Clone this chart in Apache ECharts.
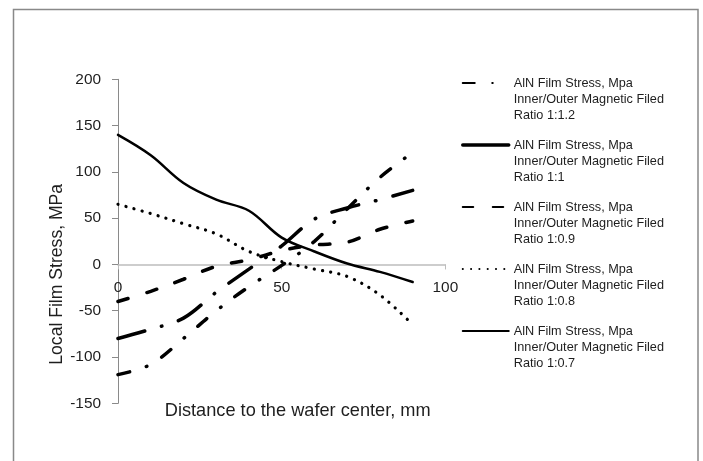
<!DOCTYPE html>
<html><head><meta charset="utf-8">
<script src="https://cdn.jsdelivr.net/npm/echarts@6/dist/echarts.min.js"></script>
<style>html,body{margin:0;padding:0;background:#fff}#c{width:703px;height:461px}</style>
</head><body><div id="c"></div>
<script>
// Distance to the wafer center, mm
const distance = [0, 10, 20, 30, 40, 50, 60, 70, 80, 90];
// Local film stress, MPa, per inner/outer magnetic field ratio
const ratio1_1_2 = [-119, -108, -80, -50, -24, -1, 25, 60, 94, 121];
const ratio1_1   = [-80, -70, -58, -30, -5, 20, 49, 61, 70, 80];
const ratio1_0_9 = [-40, -29, -16, -2, 5, 15, 21, 24, 38, 47];
const ratio1_0_8 = [65, 55, 44, 33, 14, 3, -5, -13, -33, -65];
const ratio1_0_7 = [140, 118, 88, 70, 58, 29, 14, 1, -8, -19];
const ratioLabels = ['1:1.2', '1:1', '1:0.9', '1:0.8', '1:0.7'];
const xTitle = 'Distance to the wafer center, mm';
const yTitle = 'Local Film Stress, MPa';

const FONT = 'Liberation Sans';
const TXT = '#1e1e1e';
const pairs = ys => distance.map((x, i) => [x, ys[i]]);
const nameOf = r => 'AlN Film Stress, Mpa\nInner/Outer Magnetic Filed\nRatio ' + r;

const styles = [
  { width: 3.5, type: [12, 17.5, 0.5, 17.5], cap: 'round' },
  { width: 3.5, type: [27.5, 17.5, 0.5, 17.5], cap: 'round' },
  { width: 3.5, type: [10.5, 19.5], cap: 'round' },
  { width: 3.2, type: [0.1, 8.2], cap: 'round' },
  { width: 2.5, type: 'solid', cap: 'round' }
];
const dataSets = [ratio1_1_2, ratio1_1, ratio1_0_9, ratio1_0_8, ratio1_0_7];

const series = dataSets.map((d, i) => ({
  name: nameOf(ratioLabels[i]),
  type: 'line',
  data: pairs(d),
  smooth: 0.35,
  symbol: 'none',
  showSymbol: false,
  lineStyle: Object.assign({ color: '#000' }, styles[i]),
  itemStyle: { color: '#000' },
  emphasis: { disabled: true },
  z: 5 - i
}));

const GRID_TOP = 79.3, GRID_H = 324, Y_MIN = -150, Y_MAX = 200;
// shift the x axis up so that it crosses the y axis at 0
const xAxisOffset = -GRID_H * (0 - Y_MIN) / (Y_MAX - Y_MIN);

const legendData = series.map((s, i) => i === 1
  ? { name: s.name, lineStyle: { type: 'solid', width: 3.5 } }
  : { name: s.name });

const chart = echarts.init(document.getElementById('c'), null, { renderer: 'canvas' });
chart.setOption({
  animation: false,
  backgroundColor: '#fff',
  textStyle: { fontFamily: FONT },
  graphic: [{
    type: 'rect', silent: true, z: -10,
    shape: { x: 13.5, y: 9.5, width: 684.5, height: 470 },
    style: { fill: 'none', stroke: '#898989', lineWidth: 1.5 }
  }],
  grid: { left: 118, top: GRID_TOP, width: 327.4, height: GRID_H, containLabel: false, outerBoundsMode: 'none' },
  xAxis: {
    type: 'value', min: 0, max: 100, interval: 50,
    offset: xAxisOffset,
    name: xTitle, nameLocation: 'middle', nameGap: 138,
    nameTextStyle: { fontFamily: FONT, fontSize: 18.2, color: TXT, padding: [0, 0, 0, 32] },
    axisLine: { onZero: false, lineStyle: { color: '#bdbdbd', width: 1.5 } },
    axisTick: { show: true, length: 5, lineStyle: { color: '#bdbdbd' } },
    axisLabel: { fontFamily: FONT, fontSize: 15.4, color: TXT, margin: 16 },
    splitLine: { show: false }
  },
  yAxis: {
    type: 'value', min: Y_MIN, max: Y_MAX, interval: 50,
    name: yTitle, nameLocation: 'middle', nameGap: 52, nameRotate: 90,
    nameTextStyle: { fontFamily: FONT, fontSize: 17.6, color: TXT, padding: [0, 66, 0, 0] },
    axisLine: { show: true, onZero: false, lineStyle: { color: '#8a8a8a', width: 1 } },
    axisTick: { show: true, length: 6, lineStyle: { color: '#8a8a8a' } },
    axisLabel: { fontFamily: FONT, fontSize: 15.4, color: TXT, margin: 17 },
    splitLine: { show: false }
  },
  legend: {
    orient: 'vertical', left: 461, top: 43, padding: 0,
    itemWidth: 46, itemHeight: 14, itemGap: -18,
    selectedMode: false,
    itemStyle: { opacity: 0 },
    formatter: name => '\n\n' + name,
    textStyle: { fontFamily: FONT, fontSize: 12.7, color: TXT, lineHeight: 16 },
    data: legendData
  },
  series: series
});
</script>
</body></html>
